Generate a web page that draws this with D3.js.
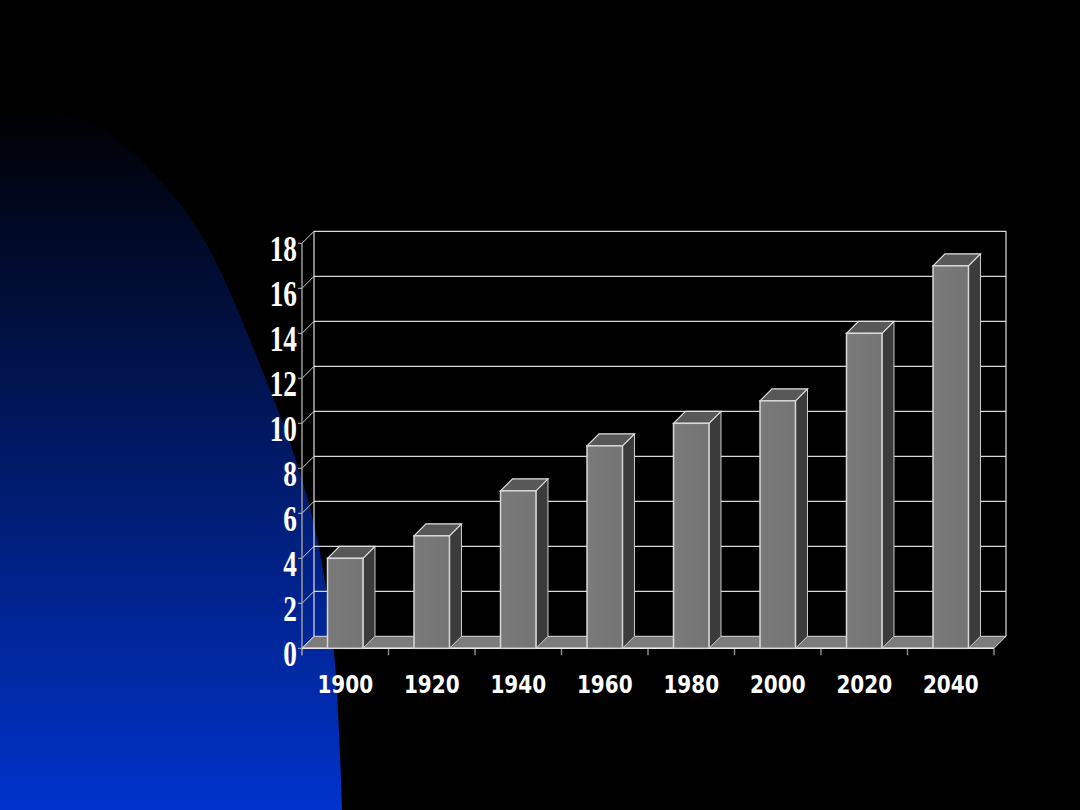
<!DOCTYPE html>
<html>
<head>
<meta charset="utf-8">
<script src="https://cdn.jsdelivr.net/npm/d3@7"></script>
<style>
html,body{margin:0;padding:0;background:#000;}
svg{display:block;}
</style>
</head>
<body>
<svg id="chart" width="1080" height="810"></svg>
<script>
const categories = ["1900","1920","1940","1960","1980","2000","2020","2040"];
const values = [4,5,7,9,10,11,14,17];
const yTicks = [0,2,4,6,8,10,12,14,16,18];

const svg = d3.select("#chart");
const W = 1080, H = 810;

// background
svg.append("rect").attr("width",W).attr("height",H).attr("fill","#000");
const defs = svg.append("defs");
const bg = defs.append("linearGradient").attr("id","bgGrad")
  .attr("gradientUnits","userSpaceOnUse").attr("x1",0).attr("y1",100).attr("x2",0).attr("y2",810);
bg.append("stop").attr("offset","0").attr("stop-color","#000000");
bg.append("stop").attr("offset","1").attr("stop-color","#0033cc");

const blob = [[-2,108],[50,112],[100,127],[150,170],[200,233],[263,372],[310,508],[333,643],[342,810]];
const blobLine = d3.line().curve(d3.curveCatmullRom.alpha(0.5));
svg.append("path")
  .attr("d", blobLine(blob) + "L-2,810Z")
  .attr("fill","url(#bgGrad)");

// scales
const x = d3.scaleBand().domain(categories).range([302, 994]).paddingInner(0.59).paddingOuter(0.295);
const y = d3.scaleLinear().domain([0,18]).range([648.3, 243.3]);
const DX = 12, DY = -12;
const x0 = 302, x1 = 994, y0 = y(0), yTop = y(18);
const step = x.step();

const g = svg.append("g");

// floor
g.append("path")
  .attr("d", `M${x0},${y0}L${x1},${y0}L${x1+DX},${y0+DY}L${x0+DX},${y0+DY}Z`)
  .attr("fill","#7c7c7c").attr("stroke","#dddddd").attr("stroke-width",1);

// back wall gridlines
g.selectAll("line.grid").data(yTicks.filter(d=>d>0)).join("line")
  .attr("class","grid")
  .attr("x1",x0+DX).attr("x2",x1+DX)
  .attr("y1",d=>y(d)+DY).attr("y2",d=>y(d)+DY)
  .attr("stroke","#d8d8d8").attr("stroke-width",1.2);
// left wall diagonals
g.selectAll("line.diag").data(yTicks).join("line")
  .attr("class","diag")
  .attr("x1",x0).attr("x2",x0+DX)
  .attr("y1",d=>y(d)).attr("y2",d=>y(d)+DY)
  .attr("stroke","#d0d0d0").attr("stroke-width",1);
// back verticals
g.append("line").attr("x1",x0+DX).attr("x2",x0+DX).attr("y1",yTop+DY).attr("y2",y0+DY)
  .attr("stroke","#e0e0e0").attr("stroke-width",1.2);
g.append("line").attr("x1",x1+DX).attr("x2",x1+DX).attr("y1",yTop+DY).attr("y2",y0+DY)
  .attr("stroke","#e0e0e0").attr("stroke-width",1.2);

// y axis line + ticks
g.append("line").attr("x1",x0).attr("x2",x0).attr("y1",yTop).attr("y2",y0+7)
  .attr("stroke","#9a9a9a").attr("stroke-width",1.5);
g.selectAll("line.ytick").data(yTicks).join("line")
  .attr("class","ytick")
  .attr("x1",x0-4).attr("x2",x0).attr("y1",d=>y(d)).attr("y2",d=>y(d))
  .attr("stroke","#bbbbbb").attr("stroke-width",1);

// x ticks
const xTickPos = d3.range(categories.length+1).map(i => x0 + i*step);
g.selectAll("line.xtick").data(xTickPos).join("line")
  .attr("class","xtick")
  .attr("x1",d=>d).attr("x2",d=>d).attr("y1",y0).attr("y2",y0+7)
  .attr("stroke","#8a8a8a").attr("stroke-width",1.5);

// front floor edge
g.append("line").attr("x1",x0).attr("x2",x1).attr("y1",y0).attr("y2",y0)
  .attr("stroke","#e8e8e8").attr("stroke-width",1.5);

// bars
const frontGrad = defs.append("linearGradient").attr("id","frontGrad")
  .attr("x1",0).attr("y1",0).attr("x2",1).attr("y2",0);
frontGrad.append("stop").attr("offset","0").attr("stop-color","#7a7a7a");
frontGrad.append("stop").attr("offset","1").attr("stop-color","#747474");

const bars = g.selectAll("g.bar").data(categories.map((c,i)=>({c, v: values[i]}))).join("g").attr("class","bar");
const bw = x.bandwidth();
const BDX = 12, BDY = -12;
// side
bars.append("path")
  .attr("d", d => {
    const xr = x(d.c)+bw, yt = y(d.v);
    return `M${xr},${y0}L${xr+BDX},${y0+BDY}L${xr+BDX},${yt+BDY}L${xr},${yt}Z`;
  })
  .attr("fill","#3b3b3b").attr("stroke","#cfcfcf").attr("stroke-width",1);
// top
bars.append("path")
  .attr("d", d => {
    const xl = x(d.c), yt = y(d.v);
    return `M${xl},${yt}L${xl+bw},${yt}L${xl+bw+BDX},${yt+BDY}L${xl+BDX},${yt+BDY}Z`;
  })
  .attr("fill","#585858").attr("stroke","#e0e0e0").attr("stroke-width",1.2);
// front
bars.append("rect")
  .attr("x", d=>x(d.c)).attr("y", d=>y(d.v))
  .attr("width", bw).attr("height", d=>y0 - y(d.v))
  .attr("fill","url(#frontGrad)").attr("stroke","#d8d8d8").attr("stroke-width",1.5);

// y labels
g.selectAll("text.ylab").data(yTicks).join("text")
  .attr("class","ylab")
  .attr("transform", d => `translate(297,${y(d)+18}) scale(0.78,1)`)
  .attr("text-anchor","end")
  .attr("font-family","'Liberation Serif', 'DejaVu Serif', serif")
  .attr("font-weight","bold")
  .attr("font-size",35)
  .attr("fill","#ffffff")
  .text(d=>d);

// x labels
g.selectAll("text.xlab").data(categories).join("text")
  .attr("class","xlab")
  .attr("transform", d => `translate(${x(d)+bw/2},693) scale(0.8,1)`)
  .attr("text-anchor","middle")
  .attr("font-family","'DejaVu Sans', sans-serif")
  .attr("font-weight","bold")
  .attr("font-size",25)
  .attr("fill","#ffffff")
  .text(d=>d);
</script>
</body>
</html>
